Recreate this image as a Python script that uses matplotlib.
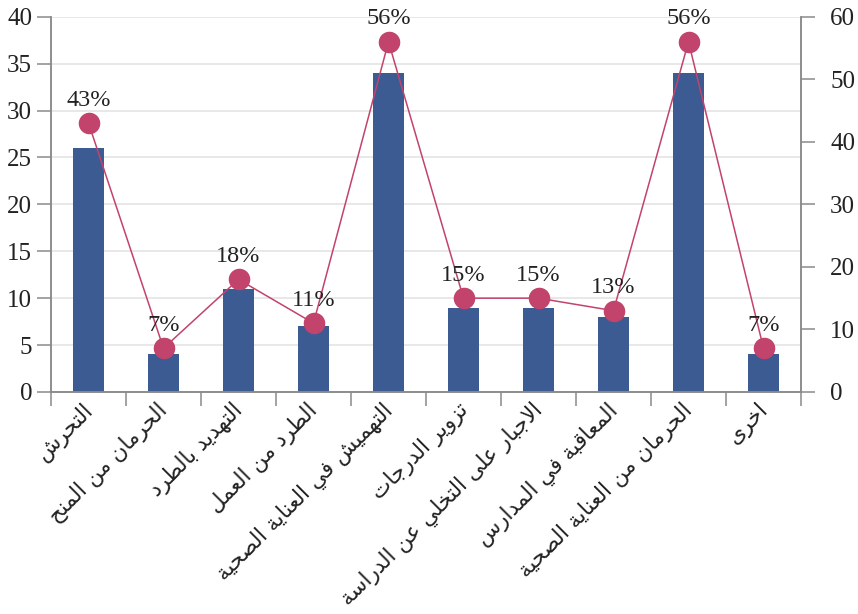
import matplotlib
matplotlib.use("Agg")
import matplotlib.pyplot as plt
from matplotlib.ticker import MultipleLocator, FixedLocator
from matplotlib.transforms import ScaledTranslation

categories = [
    "التحرش",
    "الحرمان من المنح",
    "التهديد بالطرد",
    "الطرد من العمل",
    "التهميش في العناية الصحية",
    "تزوير الدرجات",
    "الاجبار على التخلي عن الدراسة",
    "المعاقبة في المدارس",
    "الحرمان من العناية الصحية",
    "اخرى",
]
counts = [26, 4, 11, 7, 34, 9, 9, 8, 34, 4]
percents = [43, 7, 18, 11, 56, 15, 15, 13, 56, 7]

# --- minimal Arabic shaping (presentation forms) + RTL reversal ---
FORMS = {
    'ا': ('\uFE8D', '\uFE8E', None, None),
    'أ': ('\uFE83', '\uFE84', None, None),
    'إ': ('\uFE87', '\uFE88', None, None),
    'آ': ('\uFE81', '\uFE82', None, None),
    'ب': ('\uFE8F', '\uFE90', '\uFE91', '\uFE92'),
    'ة': ('\uFE93', '\uFE94', None, None),
    'ت': ('\uFE95', '\uFE96', '\uFE97', '\uFE98'),
    'ث': ('\uFE99', '\uFE9A', '\uFE9B', '\uFE9C'),
    'ج': ('\uFE9D', '\uFE9E', '\uFE9F', '\uFEA0'),
    'ح': ('\uFEA1', '\uFEA2', '\uFEA3', '\uFEA4'),
    'خ': ('\uFEA5', '\uFEA6', '\uFEA7', '\uFEA8'),
    'د': ('\uFEA9', '\uFEAA', None, None),
    'ذ': ('\uFEAB', '\uFEAC', None, None),
    'ر': ('\uFEAD', '\uFEAE', None, None),
    'ز': ('\uFEAF', '\uFEB0', None, None),
    'س': ('\uFEB1', '\uFEB2', '\uFEB3', '\uFEB4'),
    'ش': ('\uFEB5', '\uFEB6', '\uFEB7', '\uFEB8'),
    'ص': ('\uFEB9', '\uFEBA', '\uFEBB', '\uFEBC'),
    'ض': ('\uFEBD', '\uFEBE', '\uFEBF', '\uFEC0'),
    'ط': ('\uFEC1', '\uFEC2', '\uFEC3', '\uFEC4'),
    'ظ': ('\uFEC5', '\uFEC6', '\uFEC7', '\uFEC8'),
    'ع': ('\uFEC9', '\uFECA', '\uFECB', '\uFECC'),
    'غ': ('\uFECD', '\uFECE', '\uFECF', '\uFED0'),
    'ف': ('\uFED1', '\uFED2', '\uFED3', '\uFED4'),
    'ق': ('\uFED5', '\uFED6', '\uFED7', '\uFED8'),
    'ك': ('\uFED9', '\uFEDA', '\uFEDB', '\uFEDC'),
    'ل': ('\uFEDD', '\uFEDE', '\uFEDF', '\uFEE0'),
    'م': ('\uFEE1', '\uFEE2', '\uFEE3', '\uFEE4'),
    'ن': ('\uFEE5', '\uFEE6', '\uFEE7', '\uFEE8'),
    'ه': ('\uFEE9', '\uFEEA', '\uFEEB', '\uFEEC'),
    'و': ('\uFEED', '\uFEEE', None, None),
    'ى': ('\uFEEF', '\uFEF0', None, None),
    'ي': ('\uFEF1', '\uFEF2', '\uFEF3', '\uFEF4'),
}
LAM_ALEF = {'ا': ('\uFEFB', '\uFEFC'), 'أ': ('\uFEF7', '\uFEF8'),
            'إ': ('\uFEF9', '\uFEFA'), 'آ': ('\uFEF5', '\uFEF6')}


def shape(text):
    chars = list(text)
    n = len(chars)

    def joins_left(c):
        return c in FORMS and FORMS[c][2] is not None

    res = []
    i = 0
    while i < n:
        c = chars[i]
        if c not in FORMS:
            res.append(c)
            i += 1
            continue
        prev = chars[i - 1] if i > 0 else None
        prev_connect = prev is not None and joins_left(prev)
        if c == 'ل' and i + 1 < n and chars[i + 1] in LAM_ALEF:
            lig = LAM_ALEF[chars[i + 1]]
            res.append(lig[1] if prev_connect else lig[0])
            i += 2
            continue
        nxt = chars[i + 1] if i + 1 < n else None
        next_connect = nxt is not None and nxt in FORMS and joins_left(c)
        iso, fin, ini, med = FORMS[c]
        if prev_connect and next_connect:
            res.append(med)
        elif prev_connect:
            res.append(fin)
        elif next_connect:
            res.append(ini)
        else:
            res.append(iso)
        i += 1
    return ''.join(res)[::-1]


plt.rcParams['font.family'] = ['Liberation Serif', 'DejaVu Sans']

BAR = '#3b5b92'
LINE = '#c2436c'
SPINE = '#8a8a8a'
GRID = '#e6e6e6'
TXT = '#222222'

fig = plt.figure(figsize=(8.58, 6.14), dpi=100)
L, R, B, T = 51 / 858, 801 / 858, 1 - 392 / 614, 1 - 16.7 / 614
ax = fig.add_axes([L, B, R - L, T - B])
ax2 = ax.twinx()

x = list(range(len(categories)))
ax.bar(x, counts, width=0.41, color=BAR, zorder=2)
ax.set_xlim(-0.5, len(categories) - 0.5)
ax.set_ylim(0, 40)
ax.yaxis.set_major_locator(MultipleLocator(5))
ax.grid(axis='y', color=GRID, linewidth=1.3, zorder=0)
ax.set_axisbelow(True)

ax2.plot(x, percents, color=LINE, linewidth=1.1, marker='o', markersize=14.5,
         markerfacecolor=LINE, markeredgecolor=LINE, zorder=3)
ax2.set_ylim(0, 60)
ax2.yaxis.set_major_locator(MultipleLocator(10))
for xi, p in zip(x, percents):
    ax2.annotate(f"{p}%", (xi, p), xytext=(0, 12.5), textcoords='offset points',
                 ha='center', va='baseline', fontsize=17.5, color=TXT)

for a in (ax, ax2):
    a.spines['top'].set_visible(False)
    for s in ('left', 'right', 'bottom'):
        a.spines[s].set_color(SPINE)
        a.spines[s].set_linewidth(1.1)

ax.tick_params(axis='y', length=10, width=1.1, color=SPINE, pad=3.5,
               labelsize=18, labelcolor=TXT)
ax2.tick_params(axis='y', length=10, width=1.1, color=SPINE, pad=11,
                labelsize=18, labelcolor=TXT)

ax.set_xticks(x)
ax.set_xticklabels([shape(c) for c in categories], rotation=45, ha='right',
                   va='top', fontsize=15.5, family=['DejaVu Sans'], color=TXT,
                   rotation_mode='default')
ax.tick_params(axis='x', which='major', length=0, pad=5)
ax.xaxis.set_minor_locator(FixedLocator([i - 0.5 for i in range(len(categories) + 1)]))
ax.tick_params(axis='x', which='minor', length=10, width=1.1, color=SPINE)
shift = ScaledTranslation(9 / 100, 0, fig.dpi_scale_trans)
for lab in ax.get_xticklabels():
    lab.set_transform(lab.get_transform() + shift)

fig.savefig('out.png', dpi=100)
